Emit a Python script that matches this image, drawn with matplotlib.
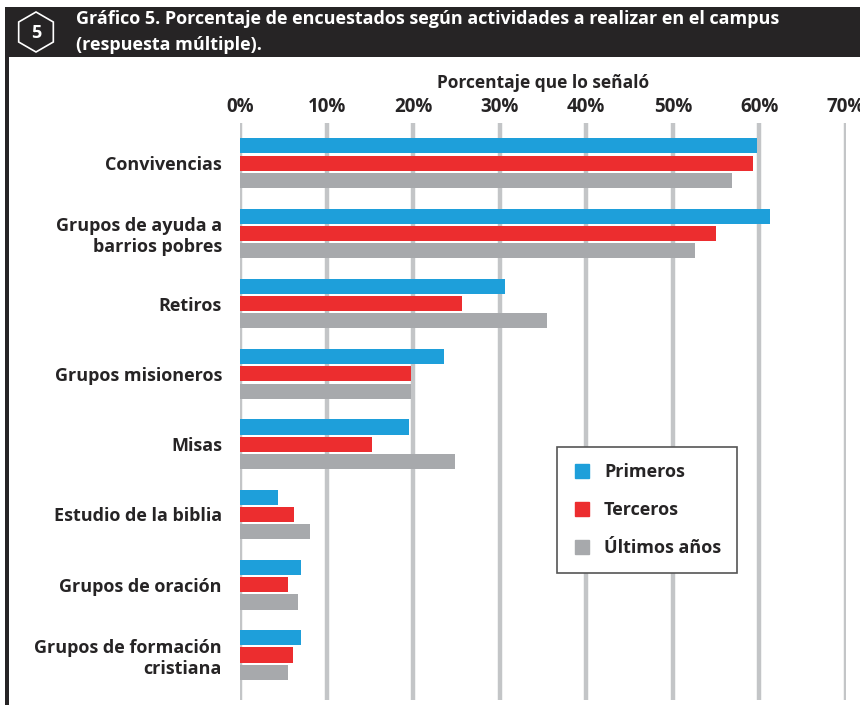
import matplotlib
matplotlib.use("Agg")
import matplotlib.pyplot as plt
from matplotlib.patches import Rectangle, RegularPolygon
from matplotlib.lines import Line2D
import numpy as np

# datos
categories = ["Convivencias", "Grupos de ayuda a\nbarrios pobres", "Retiros",
              "Grupos misioneros", "Misas", "Estudio de la biblia",
              "Grupos de oración", "Grupos de formación\ncristiana"]
primeros = [59.7, 61.2, 30.6, 23.6, 19.5, 4.4, 7.1, 7.1]
terceros = [59.3, 55.0, 25.7, 19.8, 15.3, 6.2, 5.6, 6.1]
ultimos = [56.8, 52.6, 35.5, 19.8, 24.8, 8.1, 6.7, 5.5]
series_names = ["Primeros", "Terceros", "Últimos años"]
x_ticks = [0, 10, 20, 30, 40, 50, 60, 70]

COLORS = ["#1e9fda", "#ec2d2f", "#a7a9ac"]
GRID = "#c3c5c7"
DARK = "#262425"

plt.rcParams["font.family"] = ["Open Sans", "DejaVu Sans"]

W, H = 860, 709
fig = plt.figure(figsize=(W / 100, H / 100), dpi=100)

# fondo: cabecera negra, borde izquierdo, hexagono con el numero
bg = fig.add_axes([0, 0, 1, 1])
bg.set_xlim(0, W)
bg.set_ylim(H, 0)
bg.axis("off")
bg.add_patch(Rectangle((5, 7), W, 50, facecolor=DARK, edgecolor="none"))
bg.add_patch(Rectangle((5, 7), 4, 698, facecolor=DARK, edgecolor="none"))
bg.add_patch(RegularPolygon((36, 32), numVertices=6, radius=20, orientation=0,
                            facecolor="none", edgecolor="white", lw=1.2))
bg.text(36, 33, "5", color="white", fontsize=13, fontweight="bold",
        ha="center", va="center")
bg.text(76, 19, "Gráfico 5. Porcentaje de encuestados según actividades a realizar en el campus",
        color="white", fontsize=13, fontweight="bold", ha="left", va="center")
bg.text(76, 45, "(respuesta múltiple).", color="white", fontsize=13,
        fontweight="bold", ha="left", va="center")

# grafico de barras
ax = fig.add_axes([240 / W, 1 - 700 / H, 606 / W, (700 - 123) / H])
ax.set_facecolor("none")
pos = np.arange(len(categories))
bh = 0.215
step = 0.245
for i, (vals, name) in enumerate(zip([primeros, terceros, ultimos], series_names)):
    ax.barh(pos + (i - 1) * step, vals, height=bh, color=COLORS[i],
            label=name, zorder=3)

ax.set_xlim(0, 70)
ax.set_ylim(len(categories) - 1 + 0.64, -0.57)
ax.set_xticks(x_ticks)
ax.set_xticklabels([f"{t}%" for t in x_ticks], fontsize=13.5, fontweight="bold",
                   color=DARK)
ax.xaxis.tick_top()
ax.xaxis.set_label_position("top")
ax.set_xlabel("Porcentaje que lo señaló", fontsize=12.5, fontweight="bold",
              color=DARK, labelpad=7)
ax.set_yticks(pos)
ax.set_yticklabels(categories, fontsize=13, fontweight="bold", color=DARK)
ax.tick_params(length=0, axis="x", pad=4)
ax.tick_params(length=0, axis="y", pad=13)
ax.grid(axis="x", color=GRID, lw=3.2, zorder=0)
ax.set_axisbelow(True)
for s in ax.spines.values():
    s.set_visible(False)

handles = [Line2D([], [], marker="s", ls="none", markersize=10,
                  markerfacecolor=c, markeredgecolor=c) for c in COLORS]
leg = ax.legend(handles, series_names, loc="upper left",
                bbox_to_anchor=(557 / W, 1 - 447 / H), bbox_transform=fig.transFigure,
                frameon=True, fancybox=False, framealpha=1, edgecolor="#555555",
                prop={"size": 13, "weight": "bold"}, labelspacing=1.1,
                handlelength=1.0, handletextpad=0.7, borderpad=0.9,
                borderaxespad=0)
leg.get_frame().set_linewidth(1.2)
leg.set_zorder(5)
for t in leg.get_texts():
    t.set_color(DARK)

fig.savefig("out.png", dpi=100)
